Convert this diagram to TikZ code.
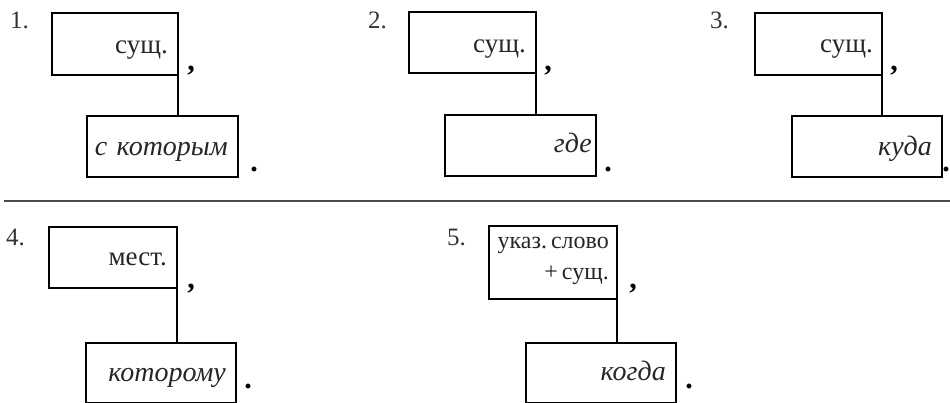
\documentclass[tikz,border=0pt]{standalone}
\usepackage{fontspec}
\setmainfont{Liberation Serif}
\begin{document}
\begin{tikzpicture}[x=1pt,y=-1pt,
  box/.style={draw, line width=2.6pt, rectangle, inner sep=0pt, outer sep=0pt, anchor=north west},
  lab/.style={anchor=base east, inner sep=0pt, font=\fontsize{27}{30}\selectfont, color=black!85},
  ilab/.style={anchor=base east, inner sep=0pt, font=\fontsize{28}{30}\selectfont\itshape, color=black!85},
  num/.style={anchor=base west, inner sep=0pt, font=\fontsize{25}{28}\selectfont, color=black!80},
  punct/.style={anchor=base, inner sep=0pt, font=\fontsize{30}{32}\selectfont\bfseries},
  link/.style={line width=2.4pt},
  sep/.style={line width=1.6pt, color=black!70}]
\useasboundingbox (0,0) rectangle (950,402);
% separator
\coordinate (sl) at (4,201);
\coordinate (sr) at (950,201);
\draw[sep] (sl) -- (sr);
% --- 1 ---
\node[num] (n1) at (10,28) {1.};
\node[box, minimum width=126pt, minimum height=62pt] (u1) at (52,13) {};
\node[box, minimum width=151pt, minimum height=61pt] (l1) at (87,116) {};
\draw[link] (u1.south east) -- (u1.south east |- l1.north);
\node[lab] (t1) at (168,53) {сущ.};
\node[ilab] (s1) at (228,155) {с\,\,которым};
\node[punct] (c1) at (191,70) {,};
\node[punct] (p1) at (254,171) {.};
% --- 2 ---
\node[num] (n2) at (368,28) {2.};
\node[box, minimum width=127pt, minimum height=61pt] (u2) at (409,12) {};
\node[box, minimum width=151pt, minimum height=61pt] (l2) at (445,115) {};
\draw[link] (u2.south east) -- (u2.south east |- l2.north);
\node[lab] (t2) at (526,52) {сущ.};
\node[ilab] (s2) at (592,152) {где};
\node[punct] (c2) at (548,70) {,};
\node[punct] (p2) at (608,171) {.};
% --- 3 ---
\node[num] (n3) at (710,28) {3.};
\node[box, minimum width=127pt, minimum height=62pt] (u3) at (755,13) {};
\node[box, minimum width=150pt, minimum height=61pt] (l3) at (792,116) {};
\draw[link] (u3.south east) -- (u3.south east |- l3.north);
\node[lab] (t3) at (873,52) {сущ.};
\node[ilab] (s3) at (932,155) {куда};
\node[punct] (c3) at (894,70) {,};
\node[punct] (p3) at (946,171) {.};
% --- 4 ---
\node[num] (n4) at (6,245) {4.};
\node[box, minimum width=128pt, minimum height=61pt] (u4) at (49,227) {};
\node[box, minimum width=150pt, minimum height=60pt] (l4) at (86,343) {};
\draw[link] (u4.south east) -- (u4.south east |- l4.north);
\node[lab] (t4) at (167,265) {мест.};
\node[ilab] (s4) at (226,381) {которому};
\node[punct] (c4) at (191,288) {,};
\node[punct] (p4) at (248,388) {.};
% --- 5 ---
\node[num] (n5) at (447,245) {5.};
\node[box, minimum width=128pt, minimum height=73pt] (u5) at (489,226) {};
\node[box, minimum width=150pt, minimum height=60pt] (l5) at (526,343) {};
\draw[link] (u5.south east) -- (u5.south east |- l5.north);
\node[anchor=base east, inner sep=0pt, font=\fontsize{24}{26}\selectfont, color=black!85] (t5a) at (609,248) {указ.\,слово};
\node[anchor=base east, inner sep=0pt, font=\fontsize{24}{26}\selectfont, color=black!85] (t5b) at (609,279) {+\,сущ.};
\node[ilab] (s5) at (666,380) {когда};
\node[punct] (c5) at (633,288) {,};
\node[punct] (p5) at (689,388) {.};
\end{tikzpicture}
\end{document}
